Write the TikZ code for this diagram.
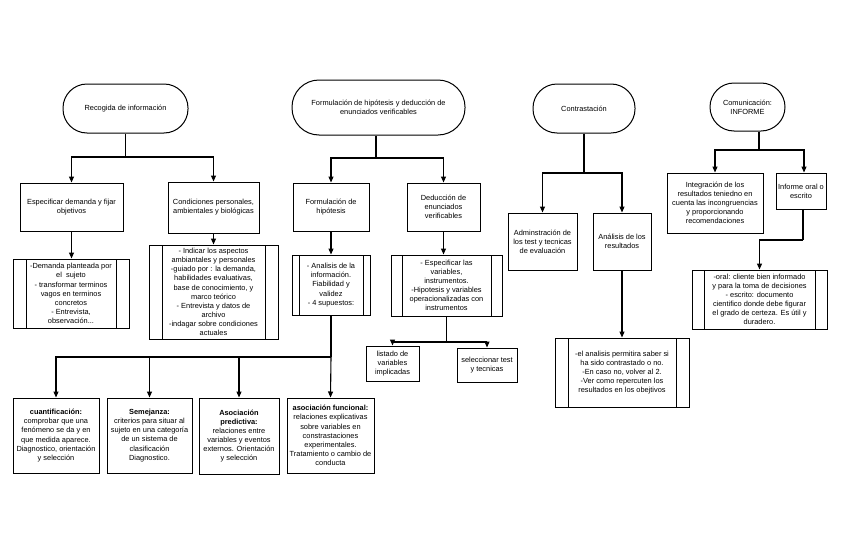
\documentclass[tikz,border=0pt]{standalone}
\usepackage{fontspec}
\setmainfont{Liberation Sans}
\usetikzlibrary{arrows.meta}
\tikzset{
  txt/.style={font=\fontsize{7.4}{9.1}\selectfont, align=center, inner sep=0pt, text=black},
  term/.style={txt, draw, line width=1pt, rounded corners=#1},
  box/.style={txt, draw, line width=1pt},
  proc/.style={box, path picture={
      \draw[line width=1pt] ([xshift=#1]path picture bounding box.north west) -- ([xshift=#1]path picture bounding box.south west);
      \draw[line width=1pt] ([xshift=-#1]path picture bounding box.north east) -- ([xshift=-#1]path picture bounding box.south east);}},
  conn/.style={line width=1.1pt, draw=black},
  arr/.style={conn, -{Triangle[length=6pt,width=5pt]}},
  dim/.style 2 args={minimum width=#1, minimum height=#2}
}
\begin{document}
\begin{tikzpicture}[x=1pt,y=-1pt]
\useasboundingbox[fill=white] (0,0) rectangle (848,554);
% terminators
\node[term=24pt, dim={125pt}{49pt}] (rec) at (125.5,108.5) {Recogida de información};
\node[term=27pt, dim={173pt}{55pt}] (form) at (378.5,107.5) {Formulación de hipótesis y deducción de\\enunciados verificables};
\node[term=24pt, dim={102pt}{49pt}] (contr) at (584,108.5) {Contrastación};
\node[term=24pt, dim={75pt}{48pt}] (comu) at (747.5,107) {Comunicación:\\INFORME};
% second level boxes
\node[box, dim={103pt}{48pt}] (esp) at (71.5,207) {Especificar demanda y fijar\\objetivos};
\node[box, dim={91pt}{51pt}] (cond) at (213.5,207.5) {Condiciones personales,\\ambientales y biológicas};
\node[box, dim={76pt}{48pt}] (fh) at (331,207) {Formulación de\\hipótesis};
\node[box, dim={73pt}{48pt}] (ded) at (443.5,207) {Deducción de\\enunciados\\verificables};
\node[box, dim={69pt}{57pt}] (adm) at (542.5,241.5) {Adminstración de\\los test y tecnicas\\de evaluación};
\node[box, dim={58pt}{57pt}] (anres) at (622,241.5) {Análisis de los\\resultados};
\node[box, dim={96pt}{60pt}] (integ) at (715,203) {Integración de los\\resultados teniedno en\\cuenta las incongruencias\\y proporcionando\\recomendaciones};
\node[box, dim={50pt}{36pt}] (inf) at (801,191) {Informe oral o\\escrito};
% process boxes
\node[proc=13pt, dim={116pt}{69pt}] (p1) at (71,293.5) {-Demanda planteada por\\el\ \ sujeto\\- transformar terminos\\vagos en terminos\\concretos\\- Entrevista,\\observación...};
\node[proc=13pt, dim={129pt}{94pt}] (p2) at (213.5,292) {- Indicar los aspectos\\ambiantales y personales\\-guiado por : la demanda,\\habilidades evaluativas,\\base de conocimiento, y\\marco teórico\\- Entrevista y datos de\\archivo\\-indagar sobre condiciones\\actuales};
\node[proc=7pt, dim={78pt}{60pt}] (p3) at (331,285) {- Analisis de la\\información.\\Fiabilidad y\\validez\\- 4 supuestos:};
\node[proc=11pt, dim={111pt}{61pt}] (p4) at (446.5,285.5) {- Especificar las\\variables,\\instrumentos.\\-Hipotesis y variables\\operacionalizadas con\\instrumentos};
\node[proc=13pt, dim={134pt}{69pt}] (p5) at (622,372.5) {-el analisis permitira saber si\\ha sido contrastado o no.\\-En caso no, volver al 2.\\-Ver como repercuten los\\resultados en los obejtivos};
\node[proc=12pt, dim={135pt}{59pt}] (p6) at (759.5,299.5) {-oral: cliente bien informado\\y para la toma de decisiones\\- escrito: documento\\cientifico donde debe figurar\\el grado de certeza. Es útil y\\duradero.};
% small boxes
\node[box, dim={53pt}{35pt}] (list) at (392.5,363.5) {listado de\\variables\\implicadas};
\node[box, dim={60pt}{34pt}] (sel) at (487,365) {seleccionar test\\y tecnicas};
% bottom boxes
\node[box, dim={86pt}{75pt}] (b1) at (56,435.5) {\textbf{cuantificación:}\\comprobar que una\\fenómeno se da y en\\que medida aparece.\\Diagnostico, orientación\\y selección};
\node[box, dim={85pt}{75pt}] (b2) at (149.5,435.5) {\textbf{Semejanza:}\\criterios para situar al\\sujeto en una categoría\\de un sistema de\\clasificación\\Diagnostico.};
\node[box, dim={80pt}{76pt}] (b3) at (239,436) {\textbf{Asociación}\\\textbf{predictiva:}\\relaciones entre\\variables y eventos\\externos. Orientación\\y selección};
\node[box, dim={87pt}{75pt}] (b4) at (330.5,435.5) {\textbf{asociación funcional:}\\relaciones explicativas\\sobre variables en\\constrastaciones\\experimentales.\\Tratamiento o cambio de\\conducta};
% junctions
\coordinate (j1) at (125.5,157);
\coordinate (j2) at (376,158);
\coordinate (j3) at (584,173);
\coordinate (j4) at (759,150);
\coordinate (j5) at (446.5,342);
\coordinate (j6) at (331,357);
\coordinate (k1) at (803,240);
% connectors
\draw[conn] (rec.south) -- (j1);
\draw[arr] (j1) -| (esp.north);
\draw[arr] (j1) -| (cond.north);
\draw[conn] (j2 |- form.south) -- (j2);
\draw[arr] (j2) -| (fh.north);
\draw[arr] (j2) -| (ded.north);
\draw[conn] (contr.south) -- (j3);
\draw[arr] (j3) -| (adm.north);
\draw[arr] (j3) -| (anres.north);
\draw[conn] (j4 |- comu.south) -- (j4);
\draw[arr] (j4) -| (integ.north);
\draw[arr] (j4) -| ([xshift=3pt]inf.north);
\draw[conn] (k1 |- inf.south) -- (k1);
\draw[arr] (k1) -| (p6.north);
\draw[arr] (esp.south) -- (esp.south |- p1.north);
\draw[arr] (cond.south) -- (p2.north);
\draw[arr] (fh.south) -- (p3.north);
\draw[arr] (ded.south) -- (ded.south |- p4.north);
\draw[arr] (anres.south) -- (p5.north);
\draw[conn] (p4.south) -- (j5);
\draw[arr] (j5) -| (list.north);
\draw[arr] (j5) -| (sel.north);
\draw[conn] (p3.south) -- (j6);
\draw[arr] (j6) -- (b4.north);
\draw[arr] (j6) -| (b1.north);
\draw[arr] (j6) -| (b2.north);
\draw[arr] (j6) -| (b3.north);
\end{tikzpicture}
\end{document}
